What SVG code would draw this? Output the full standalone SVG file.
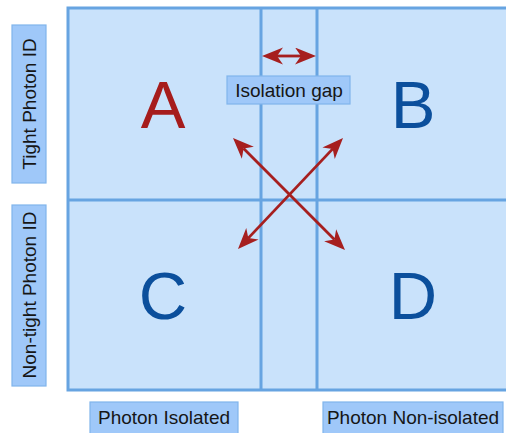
<svg xmlns="http://www.w3.org/2000/svg" width="506" height="433" viewBox="0 0 506 433">
  <style>
    .grid { fill: none; stroke: #67a4e1; stroke-width: 3; }
    .bg { fill: #c9e2fb; stroke: #67a4e1; stroke-width: 3; }
    .lbl { fill: #9fc8f9; stroke: #80b5ec; stroke-width: 1.2; }
    .t { font-family: "Liberation Sans", Arial, sans-serif; font-size: 19px; fill: #161616; text-anchor: middle; }
    .big { font-family: "Liberation Sans", Arial, sans-serif; font-size: 67px; text-anchor: middle; }
    .arr { stroke: #a61f1f; stroke-width: 2.8; fill: none; marker-start: url(#ah); marker-end: url(#ah); }
  </style>
  <defs>
    <marker id="ah" markerUnits="userSpaceOnUse" markerWidth="22" markerHeight="18" viewBox="0 0 22 18" refX="6" refY="8.5" orient="auto-start-reverse">
      <path d="M21,8.5 L0,0 L6,8.5 L0,17 Z" fill="#a61f1f"/>
    </marker>
  </defs>

  <g id="plane">
    <rect x="68" y="8" width="460" height="382" class="bg"/>
    <line x1="261" y1="8" x2="261" y2="390" class="grid"/>
    <line x1="317" y1="8" x2="317" y2="390" class="grid"/>
    <line x1="68" y1="200" x2="528" y2="200" class="grid"/>
  </g>

  <g id="region-A"><text x="163" y="128" class="big" fill="#a61c1c">A</text></g>
  <g id="region-B"><text x="413" y="128" class="big" fill="#0b4f9c">B</text></g>
  <g id="region-C"><text x="163" y="319" class="big" fill="#0b4f9c">C</text></g>
  <g id="region-D"><text x="413" y="319" class="big" fill="#0b4f9c">D</text></g>

  <g id="connectors">
    <line x1="277" y1="56" x2="301" y2="56" class="arr"/>
    <line x1="243.6" y1="148.6" x2="334.4" y2="239.4" class="arr"/>
    <line x1="248.3" y1="238.1" x2="332.7" y2="148.9" class="arr"/>
  </g>

  <g id="label-isolation-gap">
    <rect x="227" y="76" width="123" height="28" class="lbl"/>
    <text x="289" y="97" class="t">Isolation gap</text>
  </g>

  <g id="label-tight">
    <rect x="12" y="25" width="34" height="158" class="lbl"/>
    <text transform="translate(36,104) rotate(-90)" class="t">Tight Photon ID</text>
  </g>

  <g id="label-nontight">
    <rect x="12" y="205" width="34" height="181" class="lbl"/>
    <text transform="translate(36,295) rotate(-90)" class="t">Non-tight Photon ID</text>
  </g>

  <g id="label-isolated">
    <rect x="90" y="402" width="148" height="40" class="lbl"/>
    <text x="164" y="424" class="t">Photon Isolated</text>
  </g>

  <g id="label-nonisolated">
    <rect x="323" y="402" width="180" height="40" class="lbl"/>
    <text x="413" y="424" class="t">Photon Non-isolated</text>
  </g>
</svg>
